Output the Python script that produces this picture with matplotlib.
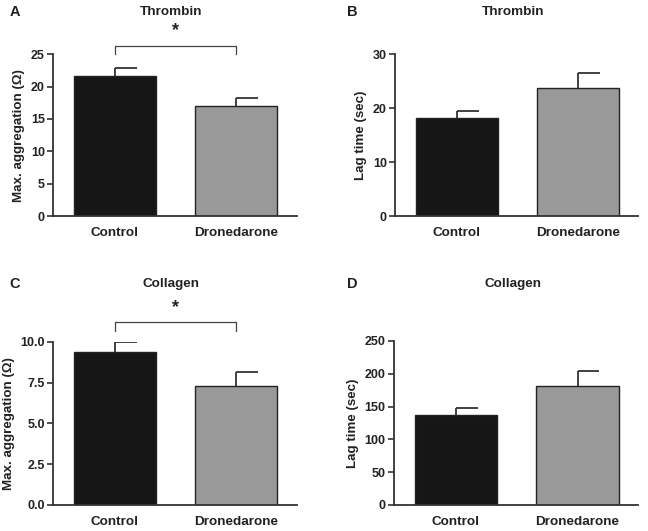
import matplotlib
matplotlib.use('Agg')
import matplotlib.pyplot as plt

plt.rcParams['font.family'] = ['Liberation Sans', 'DejaVu Sans']
plt.rcParams['font.weight'] = 'bold'

groups = ['Control', 'Dronedarone']

thr_agg = [21.6, 17.0]
thr_agg_err = [1.25, 1.2]
thr_lag = [18.1, 23.7]
thr_lag_err = [1.45, 2.8]
col_agg = [9.4, 7.3]
col_agg_err = [0.62, 0.84]
col_lag = [137, 182]
col_lag_err = [11.5, 22.5]

bar_colors = ['#161616', '#999999']
spine_c = '#333333'
txt_c = '#222222'

fig = plt.figure(figsize=(6.48, 5.31), dpi=100)


def panel(rect, vals, errs, ymax, yticks, yticklabels, ylabel, sig=None):
    ax = fig.add_axes(rect)
    x = [0, 1]
    ax.bar(x, vals, width=0.675, color=bar_colors, edgecolor='#222222', linewidth=1.0, zorder=2)
    tops = [v + e for v, e in zip(vals, errs)]
    ax.vlines(x, vals, tops, color=spine_c, linewidth=1.3, zorder=3)
    ax.hlines(tops, x, [xi + 0.18 for xi in x], color=spine_c, linewidth=1.3, zorder=3)
    ax.set_xlim(-0.51, 1.5)
    ax.set_ylim(0, ymax)
    ax.set_yticks(yticks)
    ax.set_yticklabels(yticklabels, fontsize=9, fontweight='bold', color=txt_c)
    ax.set_xticks(x)
    ax.set_xticklabels(groups, fontsize=9.7, fontweight='bold', color=txt_c)
    ax.tick_params(axis='x', length=0, pad=8)
    ax.tick_params(axis='y', length=4, width=1.2, color=spine_c, pad=2)
    for s in ['top', 'right']:
        ax.spines[s].set_visible(False)
    for s in ['left', 'bottom']:
        ax.spines[s].set_linewidth(1.3)
        ax.spines[s].set_color(spine_c)
    ax.set_ylabel(ylabel, fontsize=9.6, fontweight='bold', color=txt_c, labelpad=4)
    if sig is not None:
        yb, yt, ys = sig
        ax.plot([0, 0, 1, 1], [yt, yb, yb, yt], color='#444444', linewidth=0.9, clip_on=False)
        ax.text(0.5, ys, '*', ha='center', va='center', fontsize=13, fontweight='bold', color=txt_c)
    return ax


panel([0.082, 0.593, 0.376, 0.305], thr_agg, thr_agg_err, 25, [0, 5, 10, 15, 20, 25],
      ['0', '5', '10', '15', '20', '25'], 'Max. aggregation (\u03a9)',
      sig=(26.2, 25.0, 28.6))
panel([0.610, 0.593, 0.375, 0.305], thr_lag, thr_lag_err, 30, [0, 10, 20, 30],
      ['0', '10', '20', '30'], 'Lag time (sec)')
panel([0.082, 0.049, 0.376, 0.307], col_agg, col_agg_err, 10, [0, 2.5, 5, 7.5, 10],
      ['0.0', '2.5', '5.0', '7.5', '10.0'], 'Max. aggregation (\u03a9)',
      sig=(11.2, 10.7, 12.1))
panel([0.608, 0.049, 0.377, 0.309], col_lag, col_lag_err, 250, [0, 50, 100, 150, 200, 250],
      ['0', '50', '100', '150', '200', '250'], 'Lag time (sec)')

# titles and panel letters
titles = ['Thrombin', 'Thrombin', 'Collagen', 'Collagen']
letters = ['A', 'B', 'C', 'D']
title_xy = [(171, 12), (513, 12), (171, 284), (513, 284)]
letter_xy = [(15, 12), (352, 12), (15, 284), (352, 284)]
for t, (px, py) in zip(titles, title_xy):
    fig.text(px / 648, 1 - py / 531, t, ha='center', va='center', fontsize=9.7, fontweight='bold', color=txt_c)
for l, (px, py) in zip(letters, letter_xy):
    fig.text(px / 648, 1 - py / 531, l, ha='center', va='center', fontsize=10.5, fontweight='bold', color=txt_c)

fig.savefig('out.png', dpi=100)
